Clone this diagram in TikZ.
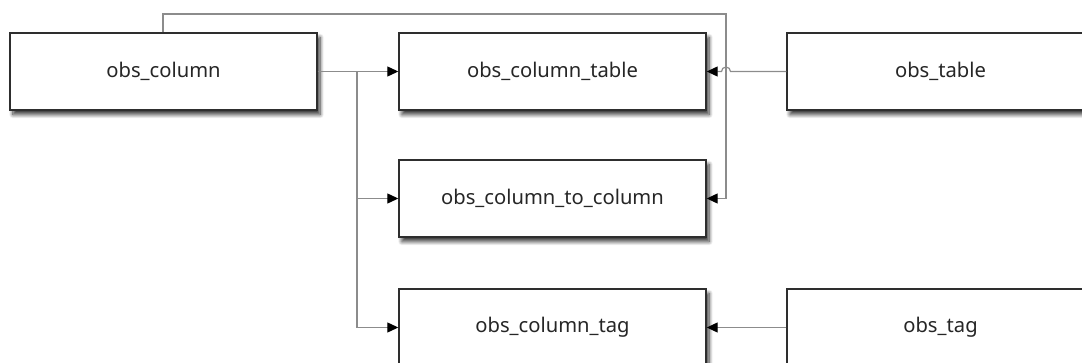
\documentclass[tikz,border=0pt]{standalone}
\usepackage{fontspec}
\setmainfont{Noto Sans}
\usetikzlibrary{arrows.meta,calc,shadows.blur}
\definecolor{edgegray}{HTML}{8C8C8C}
\definecolor{boxline}{HTML}{2E2E2E}
\tikzset{
  table/.style={draw=boxline, line width=1.4pt, fill=white,
    minimum width=307pt, minimum height=77pt, inner sep=0pt,
    font=\fontsize{20.2}{24}\selectfont, text=black!85,
    blur shadow={shadow xshift=3pt, shadow yshift=-4.5pt,
      shadow blur radius=4pt, shadow blur steps=8, shadow opacity=80}},
  conn/.style={draw=edgegray, line width=1.2pt},
  arr/.style={conn, -{Triangle[length=11pt,width=10pt,color=black]}}
}
\begin{document}
\begin{tikzpicture}[x=1pt,y=1pt]
  \useasboundingbox (0,0) rectangle (1082,362);
  % table boxes (centres)
  \node[table] (c)    at (163.5,290.5) {obs\_column};
  \node[table] (ct)   at (552.5,290.5) {obs\_column\_table};
  \node[table] (t)    at (940.5,290.5) {obs\_table};
  \node[table] (ctc)  at (552.5,163.5) {obs\_column\_to\_column};
  \node[table] (ctag) at (552.5,34.5)  {obs\_column\_tag};
  \node[table] (tag)  at (940.5,34.5)  {obs\_tag};
  % routing points
  \coordinate (trunk) at (357,290.5);
  \coordinate (lp) at (163,348);
  \coordinate (rp) at (726,348);
  % obs_column fan-out
  \draw[conn] (c.east) -- (trunk);
  \draw[arr] (trunk) -- (ct.west);
  \draw[arr] (trunk) |- (ctc.west);
  \draw[arr] (trunk) |- (ctag.west);
  % obs_column over the top to obs_column_to_column
  \draw[arr] (c.north -| lp) |- (rp) |- (ctc.east);
  % obs_table to obs_column_table, hopping over the vertical line
  \draw[arr] (t.west) -- ($(rp |- t.west)+(4.5,0)$)
    arc[start angle=0, end angle=180, radius=4.5] -- (ct.east);
  % obs_tag to obs_column_tag
  \draw[arr] (tag.west) -- (ctag.east);
\end{tikzpicture}
\end{document}
